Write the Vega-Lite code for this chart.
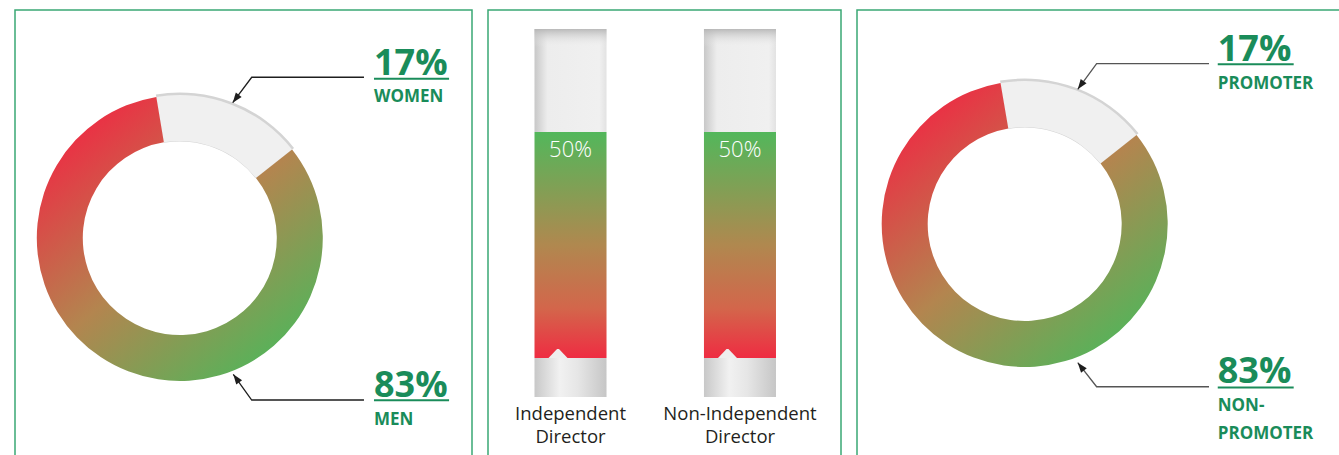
{
  "$schema": "https://vega.github.io/schema/vega-lite/v6.json",
  "padding": {"left": 14, "top": 9, "right": 0, "bottom": 0},
  "background": "white",
  "spacing": 16,
  "bounds": "flush",
  "config": {"view": {"stroke": "#3aa874", "strokeWidth": 1.5}, "font": "Open Sans"},
  "datasets": {
    "gender": [{"label": "WOMEN", "value": 17}, {"label": "MEN", "value": 83}],
    "gender_leaders": [
      {"line": "top", "point": "tip", "x": 0.370, "y": 0.946},
      {"line": "top", "point": "elbow", "x": 0.503, "y": 1.124},
      {"line": "top", "point": "end", "x": 1.288, "y": 1.124},
      {"line": "bottom", "point": "tip", "x": 0.374, "y": -0.953},
      {"line": "bottom", "point": "elbow", "x": 0.503, "y": -1.133},
      {"line": "bottom", "point": "end", "x": 1.288, "y": -1.133}
    ],
    "gender_labels": [
      {"text": "17%", "kind": "pct", "x": 1.358, "y": 1.140, "ux2": 1.883, "uy": 1.114},
      {"text": "WOMEN", "kind": "name", "x": 1.358, "y": 0.951},
      {"text": "83%", "kind": "pct", "x": 1.358, "y": -1.112, "ux2": 1.883, "uy": -1.135},
      {"text": "MEN", "kind": "name", "x": 1.358, "y": -1.308}
    ],
    "directors": [
      {"category": "Independent Director", "value": 50},
      {"category": "Non-Independent Director", "value": 50}
    ],
    "promo": [{"label": "PROMOTER", "value": 17}, {"label": "NON-PROMOTER", "value": 83}],
    "promo_leaders": [
      {"line": "top", "point": "tip", "x": 0.371, "y": 0.942},
      {"line": "top", "point": "elbow", "x": 0.503, "y": 1.121},
      {"line": "top", "point": "end", "x": 1.289, "y": 1.121},
      {"line": "bottom", "point": "tip", "x": 0.371, "y": -0.970},
      {"line": "bottom", "point": "elbow", "x": 0.503, "y": -1.138},
      {"line": "bottom", "point": "end", "x": 1.289, "y": -1.138}
    ],
    "promo_labels": [
      {"text": "17%", "kind": "pct", "x": 1.350, "y": 1.140, "ux2": 1.881, "uy": 1.117},
      {"text": "PROMOTER", "kind": "name", "x": 1.350, "y": 0.946},
      {"text": "83%", "kind": "pct", "x": 1.350, "y": -1.110, "ux2": 1.881, "uy": -1.143},
      {"text": "NON-\nPROMOTER", "kind": "name", "x": 1.350, "y": -1.308}
    ]
  },
  "hconcat": [
    {
      "width": 457,
      "height": 446,
      "layer": [
        {
          "data": {"name": "gender"},
          "transform": [{"stack": "value", "groupby": [], "sort": [{"field": "value", "order": "ascending"}], "as": ["t0", "t1"]}],
          "mark": {"type": "arc", "outerRadius": 145.5, "innerRadius": 96.5},
          "encoding": {
            "x": {"datum": 0, "type": "quantitative", "stack": null, "scale": {"domain": [-1.1524, 2.0434], "nice": false, "zero": false}, "axis": null},
            "y": {"datum": 0, "type": "quantitative", "stack": null, "scale": {"domain": [-1.5245, 1.5944], "nice": false, "zero": false}, "axis": null},
            "theta": {"field": "t0", "type": "quantitative", "scale": {"domain": [0, 100], "range": [-0.165, 6.1182]}},
            "theta2": {"field": "t1"},
            "fill": {"condition": {"test": "datum.label === 'WOMEN'", "value": "#d4d4d4"}, "value": "transparent"}
          }
        },
        {
          "data": {"name": "gender"},
          "transform": [{"stack": "value", "groupby": [], "sort": [{"field": "value", "order": "ascending"}], "as": ["t0", "t1"]}],
          "mark": {"type": "arc", "outerRadius": 143, "innerRadius": 97},
          "encoding": {
            "x": {"datum": 0, "type": "quantitative", "stack": null, "scale": {"domain": [-1.1524, 2.0434], "nice": false, "zero": false}, "axis": null},
            "y": {"datum": 0, "type": "quantitative", "stack": null, "scale": {"domain": [-1.5245, 1.5944], "nice": false, "zero": false}, "axis": null},
            "theta": {"field": "t0", "type": "quantitative", "scale": {"domain": [0, 100], "range": [-0.165, 6.1182]}},
            "theta2": {"field": "t1"},
            "fill": {
              "condition": {"test": "datum.label === 'WOMEN'", "value": "#f0f0f0"},
              "value": {"gradient": "linear", "x1": 0.15, "y1": 0.05, "x2": 0.88, "y2": 0.95,
                "stops": [{"offset": 0, "color": "#f02843"}, {"offset": 0.5, "color": "#b3854f"}, {"offset": 1, "color": "#4cb85b"}]}
            }
          }
        },
        {
          "data": {"name": "gender_leaders"},
          "mark": {"type": "line", "color": "#1e1e1e", "strokeWidth": 1.3},
          "encoding": {
            "x": {"field": "x", "type": "quantitative", "scale": {"domain": [-1.1524, 2.0434], "nice": false, "zero": false}, "axis": null},
            "y": {"field": "y", "type": "quantitative", "scale": {"domain": [-1.5245, 1.5944], "nice": false, "zero": false}, "axis": null},
            "detail": {"field": "line"}
          }
        },
        {
          "data": {"name": "gender_leaders"},
          "transform": [{"filter": "datum.point === 'tip' && datum.line === 'top'"}],
          "mark": {"type": "point", "shape": "M0,0L-0.36,1L0.36,1Z", "size": 400, "filled": true, "color": "#1e1e1e", "opacity": 1, "angle": 217},
          "encoding": {
            "x": {"field": "x", "type": "quantitative", "scale": {"domain": [-1.1524, 2.0434], "nice": false, "zero": false}, "axis": null},
            "y": {"field": "y", "type": "quantitative", "scale": {"domain": [-1.5245, 1.5944], "nice": false, "zero": false}, "axis": null}
          }
        },
        {
          "data": {"name": "gender_leaders"},
          "transform": [{"filter": "datum.point === 'tip' && datum.line === 'bottom'"}],
          "mark": {"type": "point", "shape": "M0,0L-0.36,1L0.36,1Z", "size": 400, "filled": true, "color": "#1e1e1e", "opacity": 1, "angle": 324},
          "encoding": {
            "x": {"field": "x", "type": "quantitative", "scale": {"domain": [-1.1524, 2.0434], "nice": false, "zero": false}, "axis": null},
            "y": {"field": "y", "type": "quantitative", "scale": {"domain": [-1.5245, 1.5944], "nice": false, "zero": false}, "axis": null}
          }
        },
        {
          "data": {"name": "gender_labels"},
          "transform": [{"filter": "datum.kind === 'pct'"}],
          "mark": {"type": "rule", "color": "#1a8c5a", "strokeWidth": 2},
          "encoding": {
            "x": {"field": "x", "type": "quantitative", "scale": {"domain": [-1.1524, 2.0434], "nice": false, "zero": false}, "axis": null},
            "x2": {"field": "ux2"},
            "y": {"field": "uy", "type": "quantitative", "scale": {"domain": [-1.5245, 1.5944], "nice": false, "zero": false}, "axis": null}
          }
        },
        {
          "data": {"name": "gender_labels"},
          "transform": [{"filter": "datum.kind === 'pct'"}],
          "mark": {"type": "text", "align": "left", "baseline": "alphabetic", "fontSize": 36, "fontWeight": "bold", "color": "#1a8c5a", "font": "Open Sans"},
          "encoding": {
            "x": {"field": "x", "type": "quantitative", "scale": {"domain": [-1.1524, 2.0434], "nice": false, "zero": false}, "axis": null},
            "y": {"field": "y", "type": "quantitative", "scale": {"domain": [-1.5245, 1.5944], "nice": false, "zero": false}, "axis": null},
            "text": {"field": "text"}
          }
        },
        {
          "data": {"name": "gender_labels"},
          "transform": [{"filter": "datum.kind === 'name'"}],
          "mark": {"type": "text", "align": "left", "baseline": "alphabetic", "fontSize": 17, "fontWeight": "bold", "color": "#1a8c5a", "font": "Open Sans", "lineBreak": "\n", "lineHeight": 27},
          "encoding": {
            "x": {"field": "x", "type": "quantitative", "scale": {"domain": [-1.1524, 2.0434], "nice": false, "zero": false}, "axis": null},
            "y": {"field": "y", "type": "quantitative", "scale": {"domain": [-1.5245, 1.5944], "nice": false, "zero": false}, "axis": null},
            "text": {"field": "text"}
          }
        }
      ]
    },
    {
      "width": 353,
      "height": 446,
      "data": {"name": "directors"},
      "layer": [
        {
          "mark": {"type": "rect", "fill": {"gradient": "linear", "x1": 0, "y1": 0, "x2": 1, "y2": 0,
            "stops": [{"offset": 0, "color": "#c8c8c8"}, {"offset": 0.18, "color": "#ededed"}, {"offset": 0.9, "color": "#f0f0f0"}, {"offset": 1, "color": "#e2e2e2"}]}},
          "encoding": {
            "x": {"field": "category", "type": "nominal", "sort": null, "scale": {"paddingInner": 0.575, "paddingOuter": 0.329, "align": 0.417}, "axis": null},
            "y": {"field": "value", "type": "quantitative", "scale": {"domain": [-21.68, 77.0], "nice": false, "zero": false}, "axis": null},
            "y2": {"datum": 72.79}
          }
        },
        {
          "mark": {"type": "rect", "fill": {"gradient": "linear", "x1": 0, "y1": 0, "x2": 0, "y2": 1,
            "stops": [{"offset": 0, "color": "rgba(180,180,180,0.9)"}, {"offset": 1, "color": "rgba(240,240,240,0)"}]}},
          "encoding": {
            "x": {"field": "category", "type": "nominal", "sort": null, "scale": {"paddingInner": 0.575, "paddingOuter": 0.329, "align": 0.417}, "axis": null},
            "y": {"datum": 72.79, "type": "quantitative", "scale": {"domain": [-21.68, 77.0], "nice": false, "zero": false}, "axis": null},
            "y2": {"datum": 68.8}
          }
        },
        {
          "mark": {"type": "rect", "fill": {"gradient": "linear", "x1": 0, "y1": 0, "x2": 1, "y2": 0,
            "stops": [{"offset": 0, "color": "#c8c8c8"}, {"offset": 0.35, "color": "#f1f1f1"}, {"offset": 0.6, "color": "#e6e6e6"}, {"offset": 1, "color": "#c6c6c6"}]}},
          "encoding": {
            "x": {"field": "category", "type": "nominal", "sort": null, "scale": {"paddingInner": 0.575, "paddingOuter": 0.329, "align": 0.417}, "axis": null},
            "y": {"datum": 0, "type": "quantitative", "scale": {"domain": [-21.68, 77.0], "nice": false, "zero": false}, "axis": null},
            "y2": {"datum": -8.63}
          }
        },
        {
          "mark": {"type": "rect", "fill": {"gradient": "linear", "x1": 0, "y1": 0, "x2": 0, "y2": 1,
            "stops": [{"offset": 0, "color": "#52b75b"}, {"offset": 0.5, "color": "#b0884f"}, {"offset": 0.78, "color": "#d3664b"}, {"offset": 1, "color": "#ef2c42"}]}},
          "encoding": {
            "x": {"field": "category", "type": "nominal", "sort": null, "scale": {"paddingInner": 0.575, "paddingOuter": 0.329, "align": 0.417}, "axis": null},
            "y": {"field": "value", "type": "quantitative", "scale": {"domain": [-21.68, 77.0], "nice": false, "zero": false}, "axis": null},
            "y2": {"datum": 0}
          }
        },
        {
          "mark": {"type": "point", "shape": "M-1,0L-0.1,-0.95L0.1,-0.95L1,0Z", "size": 361, "filled": true, "color": "#eeeeee", "opacity": 1, "xOffset": -12.5},
          "encoding": {
            "x": {"field": "category", "type": "nominal", "sort": null, "scale": {"paddingInner": 0.575, "paddingOuter": 0.329, "align": 0.417}, "axis": null},
            "y": {"datum": 0, "type": "quantitative", "scale": {"domain": [-21.68, 77.0], "nice": false, "zero": false}, "axis": null}
          }
        },
        {
          "transform": [{"calculate": "datum.value + '%'", "as": "pct"}],
          "mark": {"type": "text", "align": "center", "baseline": "alphabetic", "dy": 25, "fontSize": 22, "fontWeight": 300, "color": "#ffffff", "font": "Open Sans"},
          "encoding": {
            "x": {"field": "category", "type": "nominal", "sort": null, "scale": {"paddingInner": 0.575, "paddingOuter": 0.329, "align": 0.417}, "axis": null},
            "y": {"field": "value", "type": "quantitative", "scale": {"domain": [-21.68, 77.0], "nice": false, "zero": false}, "axis": null},
            "text": {"field": "pct"}
          }
        },
        {
          "mark": {"type": "text", "align": "center", "baseline": "alphabetic", "fontSize": 18.5, "color": "#231f20", "font": "Open Sans", "lineBreak": " ", "lineHeight": 23},
          "encoding": {
            "x": {"field": "category", "type": "nominal", "sort": null, "scale": {"paddingInner": 0.575, "paddingOuter": 0.329, "align": 0.417}, "axis": null},
            "y": {"datum": -13.78, "type": "quantitative", "scale": {"domain": [-21.68, 77.0], "nice": false, "zero": false}, "axis": null},
            "text": {"field": "category"}
          }
        }
      ]
    },
    {
      "width": 483,
      "height": 446,
      "layer": [
        {
          "data": {"name": "promo"},
          "transform": [{"stack": "value", "groupby": [], "sort": [{"field": "value", "order": "ascending"}], "as": ["t0", "t1"]}],
          "mark": {"type": "arc", "outerRadius": 145.5, "innerRadius": 96.5},
          "encoding": {
            "x": {"datum": 0, "type": "quantitative", "stack": null, "scale": {"domain": [-1.1727, 2.2049], "nice": false, "zero": false}, "axis": null},
            "y": {"datum": 0, "type": "quantitative", "stack": null, "scale": {"domain": [-1.6224, 1.4965], "nice": false, "zero": false}, "axis": null},
            "theta": {"field": "t0", "type": "quantitative", "scale": {"domain": [0, 100], "range": [-0.17, 6.1132]}},
            "theta2": {"field": "t1"},
            "fill": {"condition": {"test": "datum.label === 'PROMOTER'", "value": "#d4d4d4"}, "value": "transparent"}
          }
        },
        {
          "data": {"name": "promo"},
          "transform": [{"stack": "value", "groupby": [], "sort": [{"field": "value", "order": "ascending"}], "as": ["t0", "t1"]}],
          "mark": {"type": "arc", "outerRadius": 143, "innerRadius": 97},
          "encoding": {
            "x": {"datum": 0, "type": "quantitative", "stack": null, "scale": {"domain": [-1.1727, 2.2049], "nice": false, "zero": false}, "axis": null},
            "y": {"datum": 0, "type": "quantitative", "stack": null, "scale": {"domain": [-1.6224, 1.4965], "nice": false, "zero": false}, "axis": null},
            "theta": {"field": "t0", "type": "quantitative", "scale": {"domain": [0, 100], "range": [-0.17, 6.1132]}},
            "theta2": {"field": "t1"},
            "fill": {
              "condition": {"test": "datum.label === 'PROMOTER'", "value": "#f0f0f0"},
              "value": {"gradient": "linear", "x1": 0.15, "y1": 0.05, "x2": 0.88, "y2": 0.95,
                "stops": [{"offset": 0, "color": "#f02843"}, {"offset": 0.5, "color": "#b3854f"}, {"offset": 1, "color": "#4cb85b"}]}
            }
          }
        },
        {
          "data": {"name": "promo_leaders"},
          "mark": {"type": "line", "color": "#555555", "strokeWidth": 1.3},
          "encoding": {
            "x": {"field": "x", "type": "quantitative", "scale": {"domain": [-1.1727, 2.2049], "nice": false, "zero": false}, "axis": null},
            "y": {"field": "y", "type": "quantitative", "scale": {"domain": [-1.6224, 1.4965], "nice": false, "zero": false}, "axis": null},
            "detail": {"field": "line"}
          }
        },
        {
          "data": {"name": "promo_leaders"},
          "transform": [{"filter": "datum.point === 'tip' && datum.line === 'top'"}],
          "mark": {"type": "point", "shape": "M0,0L-0.36,1L0.36,1Z", "size": 400, "filled": true, "color": "#1e1e1e", "opacity": 1, "angle": 216},
          "encoding": {
            "x": {"field": "x", "type": "quantitative", "scale": {"domain": [-1.1727, 2.2049], "nice": false, "zero": false}, "axis": null},
            "y": {"field": "y", "type": "quantitative", "scale": {"domain": [-1.6224, 1.4965], "nice": false, "zero": false}, "axis": null}
          }
        },
        {
          "data": {"name": "promo_leaders"},
          "transform": [{"filter": "datum.point === 'tip' && datum.line === 'bottom'"}],
          "mark": {"type": "point", "shape": "M0,0L-0.36,1L0.36,1Z", "size": 400, "filled": true, "color": "#1e1e1e", "opacity": 1, "angle": 322},
          "encoding": {
            "x": {"field": "x", "type": "quantitative", "scale": {"domain": [-1.1727, 2.2049], "nice": false, "zero": false}, "axis": null},
            "y": {"field": "y", "type": "quantitative", "scale": {"domain": [-1.6224, 1.4965], "nice": false, "zero": false}, "axis": null}
          }
        },
        {
          "data": {"name": "promo_labels"},
          "transform": [{"filter": "datum.kind === 'pct'"}],
          "mark": {"type": "rule", "color": "#1a8c5a", "strokeWidth": 2},
          "encoding": {
            "x": {"field": "x", "type": "quantitative", "scale": {"domain": [-1.1727, 2.2049], "nice": false, "zero": false}, "axis": null},
            "x2": {"field": "ux2"},
            "y": {"field": "uy", "type": "quantitative", "scale": {"domain": [-1.6224, 1.4965], "nice": false, "zero": false}, "axis": null}
          }
        },
        {
          "data": {"name": "promo_labels"},
          "transform": [{"filter": "datum.kind === 'pct'"}],
          "mark": {"type": "text", "align": "left", "baseline": "alphabetic", "fontSize": 36, "fontWeight": "bold", "color": "#1a8c5a", "font": "Open Sans"},
          "encoding": {
            "x": {"field": "x", "type": "quantitative", "scale": {"domain": [-1.1727, 2.2049], "nice": false, "zero": false}, "axis": null},
            "y": {"field": "y", "type": "quantitative", "scale": {"domain": [-1.6224, 1.4965], "nice": false, "zero": false}, "axis": null},
            "text": {"field": "text"}
          }
        },
        {
          "data": {"name": "promo_labels"},
          "transform": [{"filter": "datum.kind === 'name'"}],
          "mark": {"type": "text", "align": "left", "baseline": "alphabetic", "fontSize": 17, "fontWeight": "bold", "color": "#1a8c5a", "font": "Open Sans", "lineBreak": "\n", "lineHeight": 27.7},
          "encoding": {
            "x": {"field": "x", "type": "quantitative", "scale": {"domain": [-1.1727, 2.2049], "nice": false, "zero": false}, "axis": null},
            "y": {"field": "y", "type": "quantitative", "scale": {"domain": [-1.6224, 1.4965], "nice": false, "zero": false}, "axis": null},
            "text": {"field": "text"}
          }
        }
      ]
    }
  ]
}
